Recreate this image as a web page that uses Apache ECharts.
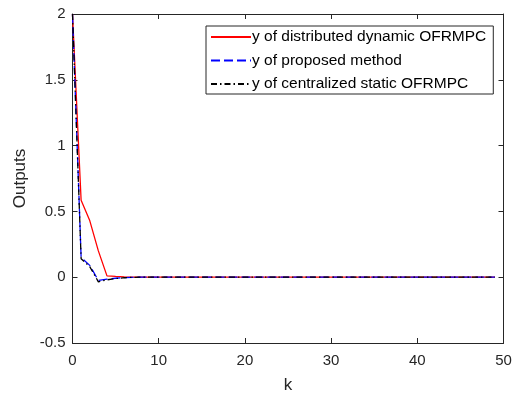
<!DOCTYPE html>
<html><head><meta charset="utf-8">
<script src="https://cdn.jsdelivr.net/npm/echarts@6/dist/echarts.min.js"></script>
<style>html,body{margin:0;padding:0;background:#fff}#c{width:515px;height:399px}</style>
</head><body><div id="c"></div>
<script>
const kValues = [0,1,2,3,4,5,6,7,8,9,10,11,12,13,14,15,16,17,18,19,20,21,22,23,24,25,26,27,28,29,30,31,32,33,34,35,36,37,38,39,40,41,42,43,44,45,46,47,48,49];
const yDistributed = [2,0.585,0.43,0.2,0.01,0.006,0.003,0.001,0,0,0,0,0,0,0,0,0,0,0,0,0,0,0,0,0,0,0,0,0,0,0,0,0,0,0,0,0,0,0,0,0,0,0,0,0,0,0,0,0,0];
const yProposed = [2,0.15,0.09,-0.025,-0.015,-0.008,-0.003,-0.001,0,0,0,0,0,0,0,0,0,0,0,0,0,0,0,0,0,0,0,0,0,0,0,0,0,0,0,0,0,0,0,0,0,0,0,0,0,0,0,0,0,0];
const yCentralized = [2,0.14,0.08,-0.035,-0.02,-0.01,-0.004,-0.001,0,0,0,0,0,0,0,0,0,0,0,0,0,0,0,0,0,0,0,0,0,0,0,0,0,0,0,0,0,0,0,0,0,0,0,0,0,0,0,0,0,0];
const seriesNames = ['y of distributed dynamic OFRMPC','y of proposed method','y of centralized static OFRMPC'];
const xTicks = [0,10,20,30,40,50];
const yTicks = [-0.5,0,0.5,1,1.5,2];

const axisColor = '#262626';
const font = 'Liberation Sans, Arial, sans-serif';
const chart = echarts.init(document.getElementById('c'));
const pair = (ys) => kValues.map((k,i)=>[k, ys[i]]);
const baseX = {type:'value',min:xTicks[0],max:xTicks[xTicks.length-1],interval:10,
  axisLine:{show:true,onZero:false,lineStyle:{color:axisColor,width:1}},
  axisTick:{show:true,inside:true,length:5,lineStyle:{color:axisColor}},
  splitLine:{show:false}};
const baseY = {type:'value',min:yTicks[0],max:yTicks[yTicks.length-1],interval:0.5,
  axisLine:{show:true,onZero:false,lineStyle:{color:axisColor,width:1}},
  axisTick:{show:true,inside:true,length:5,lineStyle:{color:axisColor}},
  splitLine:{show:false}};
chart.setOption({
  animation:false,
  grid:{left:72.5,right:11.5,top:14,bottom:56,containLabel:false},
  xAxis:[
    Object.assign({},baseX,{position:'bottom',name:'k',nameLocation:'middle',nameGap:34,
      nameTextStyle:{fontFamily:font,fontSize:17,color:axisColor},
      axisLabel:{fontFamily:font,fontSize:15,color:axisColor,margin:10}}),
    Object.assign({},baseX,{position:'top',axisLabel:{show:false}})
  ],
  yAxis:[
    Object.assign({},baseY,{position:'left',name:'Outputs',nameLocation:'middle',nameGap:44,
      nameTextStyle:{fontFamily:font,fontSize:17,color:axisColor},
      axisLabel:{fontFamily:font,fontSize:15,color:axisColor,margin:7}}),
    Object.assign({},baseY,{position:'right',axisLabel:{show:false}})
  ],
  legend:{
    orient:'vertical',left:206,top:26,
    backgroundColor:'#fff',borderColor:axisColor,borderWidth:1,
    padding:[3,7,2,4],itemGap:7.5,itemWidth:40,itemHeight:14,
    itemStyle:{opacity:0},
    textStyle:{fontFamily:font,fontSize:15.5,color:'#000',padding:[0,0,0,-4]},
    data:seriesNames
  },
  series:[
    {name:seriesNames[0],type:'line',data:pair(yDistributed),symbol:'none',
      lineStyle:{color:'#ff0000',width:1.3,type:'solid'},itemStyle:{color:'#ff0000'},z:3},
    {name:seriesNames[1],type:'line',data:pair(yProposed),symbol:'none',
      lineStyle:{color:'#0000ff',width:1.3,type:[9,4]},itemStyle:{color:'#0000ff'},z:4},
    {name:seriesNames[2],type:'line',data:pair(yCentralized),symbol:'none',
      lineStyle:{color:'#000000',width:1.3,type:[6,3,1.5,3]},itemStyle:{color:'#000000'},z:5}
  ]
});
</script></body></html>
